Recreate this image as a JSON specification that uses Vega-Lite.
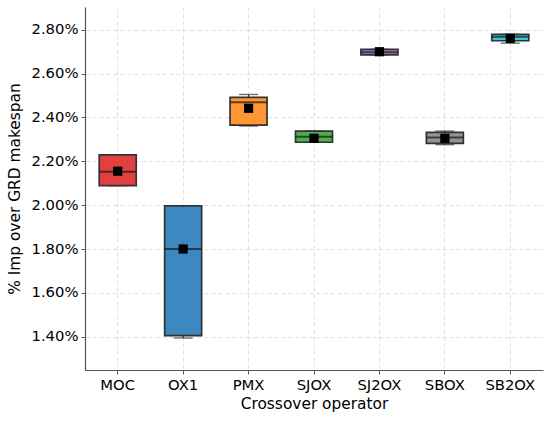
{
  "$schema": "https://vega.github.io/schema/vega-lite/v6.json",
  "width": 458,
  "height": 363,
  "autosize": "none",
  "padding": {"left": 85, "top": 7, "right": 7, "bottom": 51},
  "background": "white",
  "config": {
    "view": {"stroke": null},
    "font": "DejaVu Sans",
    "axis": {
      "domainColor": "#555555",
      "domainWidth": 1.2,
      "tickColor": "#555555",
      "tickSize": 4,
      "tickWidth": 1,
      "labelColor": "#000000",
      "titleColor": "#000000",
      "labelFontSize": 14.8,
      "titleFontSize": 15.4,
      "titleFontWeight": "normal",
      "gridColor": "#d8d8d8",
      "gridDash": [4, 3],
      "gridWidth": 0.8
    }
  },
  "data": {
    "values": [
      {"op": "MOC", "lo": 2.089, "q1": 2.089, "med": 2.152, "q3": 2.229, "hi": 2.229, "mean": 2.155},
      {"op": "OX1", "lo": 1.394, "q1": 1.405, "med": 1.800, "q3": 1.997, "hi": 1.997, "mean": 1.800},
      {"op": "PMX", "lo": 2.361, "q1": 2.365, "med": 2.470, "q3": 2.492, "hi": 2.505, "mean": 2.442},
      {"op": "SJOX", "lo": 2.287, "q1": 2.287, "med": 2.312, "q3": 2.338, "hi": 2.338, "mean": 2.305},
      {"op": "SJ2OX", "lo": 2.686, "q1": 2.686, "med": 2.698, "q3": 2.711, "hi": 2.711, "mean": 2.700},
      {"op": "SBOX", "lo": 2.276, "q1": 2.282, "med": 2.309, "q3": 2.332, "hi": 2.338, "mean": 2.305},
      {"op": "SB2OX", "lo": 2.739, "q1": 2.750, "med": 2.768, "q3": 2.779, "hi": 2.779, "mean": 2.761}
    ]
  },
  "encoding": {
    "x": {
      "field": "op",
      "type": "nominal",
      "sort": null,
      "scale": {"paddingInner": 0, "paddingOuter": 0},
      "axis": {"title": "Crossover operator", "labelAngle": 0, "labelPadding": 3, "titlePadding": 5, "grid": true}
    }
  },
  "layer": [
    {
      "mark": {"type": "rule", "color": "#333333", "strokeWidth": 1.4},
      "encoding": {
        "y": {
          "field": "lo",
          "type": "quantitative",
          "title": "% Imp over GRD makespan",
          "scale": {"domain": [1.248, 2.904], "nice": false, "zero": false},
          "axis": {
            "values": [1.4, 1.6, 1.8, 2.0, 2.2, 2.4, 2.6, 2.8],
            "labelExpr": "format(datum.value, '.2f') + '%'",
            "labelPadding": 3,
            "titlePadding": 8,
            "grid": true
          }
        },
        "y2": {"field": "q1"}
      }
    },
    {
      "mark": {"type": "rule", "color": "#333333", "strokeWidth": 1.4},
      "encoding": {
        "y": {"field": "q3", "type": "quantitative", "title": "% Imp over GRD makespan"},
        "y2": {"field": "hi"}
      }
    },
    {
      "mark": {"type": "tick", "color": "#333333", "size": 19, "thickness": 1.4},
      "encoding": {
        "y": {"field": "lo", "type": "quantitative", "title": "% Imp over GRD makespan"}
      }
    },
    {
      "mark": {"type": "tick", "color": "#333333", "size": 19, "thickness": 1.4},
      "encoding": {
        "y": {"field": "hi", "type": "quantitative", "title": "% Imp over GRD makespan"}
      }
    },
    {
      "mark": {"type": "bar", "width": 37, "stroke": "#333333", "strokeWidth": 1.7, "fillOpacity": 1},
      "encoding": {
        "y": {"field": "q1", "type": "quantitative", "title": "% Imp over GRD makespan"},
        "y2": {"field": "q3"},
        "fill": {
          "field": "op",
          "type": "nominal",
          "legend": null,
          "scale": {
            "domain": ["MOC", "OX1", "PMX", "SJOX", "SJ2OX", "SBOX", "SB2OX"],
            "range": ["#e2403f", "#3e88c1", "#ff9633", "#4caf4c", "#a47ec7", "#939393", "#3ac8d6"]
          }
        }
      }
    },
    {
      "mark": {"type": "tick", "color": "#1a1a1a", "size": 37, "thickness": 2},
      "encoding": {
        "y": {"field": "med", "type": "quantitative", "title": "% Imp over GRD makespan"}
      }
    },
    {
      "mark": {"type": "point", "shape": "square", "filled": true, "color": "#000000", "size": 85, "opacity": 1},
      "encoding": {
        "y": {"field": "mean", "type": "quantitative", "title": "% Imp over GRD makespan"}
      }
    }
  ]
}
